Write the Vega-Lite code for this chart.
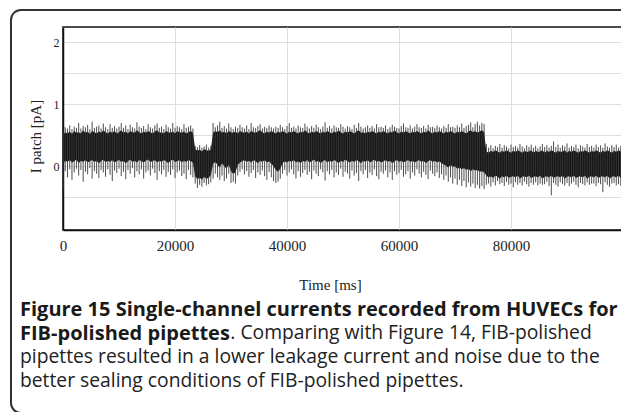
{
  "$schema": "https://vega.github.io/schema/vega-lite/v6.json",
  "width": 560,
  "height": 203,
  "autosize": {"type": "none"},
  "padding": {"left": 63, "top": 27, "right": 0, "bottom": 182},
  "background": "white",
  "config": {
    "view": {"stroke": "#111", "strokeWidth": 1.5},
    "axis": {"gridColor": "#dedede", "gridWidth": 1, "domainColor": "#111", "domainWidth": 1.5, "ticks": false, "labelColor": "#222", "titleColor": "#222", "labelFont": "Liberation Serif", "titleFont": "Liberation Serif", "titleFontWeight": "normal"}
  },
  "title": {
    "text": ["Figure 15 Single-channel currents recorded from HUVECs for", "FIB-polished pipettes"],
    "subtitle": ["\u200b\u00a0\u00a0\u00a0\u00a0\u00a0\u00a0\u00a0\u00a0\u00a0\u00a0\u00a0\u00a0\u00a0\u00a0\u00a0\u00a0\u00a0\u00a0\u00a0\u00a0\u00a0\u00a0\u00a0\u00a0\u00a0\u00a0\u00a0\u00a0\u00a0\u00a0\u00a0\u00a0\u00a0\u00a0\u00a0\u00a0\u00a0\u00a0\u00a0\u00a0\u00a0\u00a0. Comparing with Figure 14, FIB-polished", "pipettes resulted in a lower leakage current and noise due to the", "better sealing conditions of FIB-polished pipettes."],
    "orient": "bottom",
    "anchor": "start",
    "frame": "group",
    "dx": -43,
    "offset": -114,
    "font": "Open Sans",
    "fontSize": 20,
    "fontWeight": "bold",
    "color": "#1a1a1a",
    "lineHeight": 24,
    "subtitleFont": "Open Sans",
    "subtitleFontSize": 19.3,
    "subtitleFontWeight": "normal",
    "subtitleColor": "#222",
    "subtitleLineHeight": 24,
    "subtitlePadding": -20
  },
  "data": {"values": [
    {"t":0,"lo":0.04,"hi":0.50,"mn":-0.38,"mx":0.58},
    {"t":400,"lo":0.09,"hi":0.55,"mn":-0.08,"mx":0.63},
    {"t":800,"lo":0.07,"hi":0.53,"mn":-0.18,"mx":0.61},
    {"t":1200,"lo":0.10,"hi":0.56,"mn":-0.05,"mx":0.66},
    {"t":1600,"lo":0.06,"hi":0.52,"mn":-0.22,"mx":0.60},
    {"t":2000,"lo":0.08,"hi":0.57,"mn":-0.10,"mx":0.64},
    {"t":2400,"lo":0.11,"hi":0.54,"mn":-0.04,"mx":0.62},
    {"t":2800,"lo":0.05,"hi":0.55,"mn":-0.15,"mx":0.70},
    {"t":3200,"lo":0.09,"hi":0.53,"mn":-0.06,"mx":0.61},
    {"t":3600,"lo":0.07,"hi":0.58,"mn":-0.25,"mx":0.65},
    {"t":4000,"lo":0.10,"hi":0.54,"mn":-0.09,"mx":0.63},
    {"t":4400,"lo":0.06,"hi":0.56,"mn":-0.13,"mx":0.67},
    {"t":4800,"lo":0.08,"hi":0.52,"mn":-0.03,"mx":0.60},
    {"t":5200,"lo":0.10,"hi":0.57,"mn":-0.20,"mx":0.72},
    {"t":5600,"lo":0.07,"hi":0.55,"mn":-0.08,"mx":0.62},
    {"t":6000,"lo":0.09,"hi":0.53,"mn":-0.12,"mx":0.64},
    {"t":6400,"lo":0.05,"hi":0.56,"mn":-0.19,"mx":0.66},
    {"t":6800,"lo":0.08,"hi":0.54,"mn":-0.06,"mx":0.61},
    {"t":7200,"lo":0.11,"hi":0.58,"mn":-0.10,"mx":0.69},
    {"t":7600,"lo":0.06,"hi":0.55,"mn":-0.17,"mx":0.63},
    {"t":8000,"lo":0.09,"hi":0.53,"mn":-0.05,"mx":0.60},
    {"t":8400,"lo":0.07,"hi":0.56,"mn":-0.14,"mx":0.68},
    {"t":8800,"lo":0.10,"hi":0.54,"mn":-0.24,"mx":0.62},
    {"t":9200,"lo":0.06,"hi":0.57,"mn":-0.07,"mx":0.65},
    {"t":9600,"lo":0.08,"hi":0.53,"mn":-0.11,"mx":0.61},
    {"t":10000,"lo":0.10,"hi":0.55,"mn":-0.04,"mx":0.64},
    {"t":10400,"lo":0.07,"hi":0.58,"mn":-0.16,"mx":0.70},
    {"t":10800,"lo":0.09,"hi":0.54,"mn":-0.09,"mx":0.62},
    {"t":11200,"lo":0.05,"hi":0.56,"mn":-0.21,"mx":0.66},
    {"t":11600,"lo":0.08,"hi":0.53,"mn":-0.06,"mx":0.60},
    {"t":12000,"lo":0.11,"hi":0.57,"mn":-0.12,"mx":0.67},
    {"t":12400,"lo":0.07,"hi":0.55,"mn":-0.03,"mx":0.63},
    {"t":12800,"lo":0.09,"hi":0.54,"mn":-0.18,"mx":0.61},
    {"t":13200,"lo":0.06,"hi":0.58,"mn":-0.08,"mx":0.71},
    {"t":13600,"lo":0.10,"hi":0.55,"mn":-0.13,"mx":0.64},
    {"t":14000,"lo":0.08,"hi":0.53,"mn":-0.05,"mx":0.62},
    {"t":14400,"lo":0.06,"hi":0.56,"mn":-0.20,"mx":0.65},
    {"t":14800,"lo":0.09,"hi":0.54,"mn":-0.10,"mx":0.60},
    {"t":15200,"lo":0.11,"hi":0.57,"mn":-0.07,"mx":0.68},
    {"t":15600,"lo":0.07,"hi":0.55,"mn":-0.15,"mx":0.63},
    {"t":16000,"lo":0.08,"hi":0.53,"mn":-0.04,"mx":0.61},
    {"t":16400,"lo":0.10,"hi":0.56,"mn":-0.11,"mx":0.66},
    {"t":16800,"lo":0.06,"hi":0.58,"mn":-0.22,"mx":0.69},
    {"t":17200,"lo":0.09,"hi":0.54,"mn":-0.08,"mx":0.62},
    {"t":17600,"lo":0.07,"hi":0.55,"mn":-0.13,"mx":0.64},
    {"t":18000,"lo":0.10,"hi":0.53,"mn":-0.06,"mx":0.60},
    {"t":18400,"lo":0.08,"hi":0.57,"mn":-0.17,"mx":0.67},
    {"t":18800,"lo":0.05,"hi":0.55,"mn":-0.09,"mx":0.63},
    {"t":19200,"lo":0.09,"hi":0.54,"mn":-0.14,"mx":0.61},
    {"t":19600,"lo":0.11,"hi":0.56,"mn":-0.05,"mx":0.70},
    {"t":20000,"lo":0.07,"hi":0.53,"mn":-0.19,"mx":0.62},
    {"t":20400,"lo":0.08,"hi":0.57,"mn":-0.10,"mx":0.65},
    {"t":20800,"lo":0.10,"hi":0.55,"mn":-0.07,"mx":0.63},
    {"t":21200,"lo":0.06,"hi":0.54,"mn":-0.16,"mx":0.60},
    {"t":21600,"lo":0.09,"hi":0.56,"mn":-0.12,"mx":0.68},
    {"t":22000,"lo":0.07,"hi":0.53,"mn":-0.21,"mx":0.62},
    {"t":22400,"lo":0.10,"hi":0.55,"mn":-0.06,"mx":0.64},
    {"t":22800,"lo":0.08,"hi":0.57,"mn":-0.14,"mx":0.66},
    {"t":23200,"lo":0.06,"hi":0.54,"mn":-0.18,"mx":0.61},
    {"t":23600,"lo":-0.16,"hi":0.28,"mn":-0.28,"mx":0.33},
    {"t":24000,"lo":-0.21,"hi":0.25,"mn":-0.35,"mx":0.31},
    {"t":24400,"lo":-0.18,"hi":0.27,"mn":-0.30,"mx":0.34},
    {"t":24800,"lo":-0.22,"hi":0.24,"mn":-0.33,"mx":0.30},
    {"t":25200,"lo":-0.17,"hi":0.28,"mn":-0.27,"mx":0.32},
    {"t":25600,"lo":-0.20,"hi":0.26,"mn":-0.31,"mx":0.35},
    {"t":26000,"lo":-0.19,"hi":0.25,"mn":-0.29,"mx":0.30},
    {"t":26400,"lo":-0.14,"hi":0.27,"mn":-0.26,"mx":0.33},
    {"t":26800,"lo":0.04,"hi":0.54,"mn":-0.20,"mx":0.70},
    {"t":27200,"lo":0.07,"hi":0.57,"mn":-0.12,"mx":0.63},
    {"t":27600,"lo":0.02,"hi":0.55,"mn":-0.18,"mx":0.66},
    {"t":28000,"lo":-0.02,"hi":0.58,"mn":-0.22,"mx":0.72},
    {"t":28400,"lo":0.05,"hi":0.54,"mn":-0.15,"mx":0.62},
    {"t":28800,"lo":0.00,"hi":0.56,"mn":-0.24,"mx":0.65},
    {"t":29200,"lo":-0.04,"hi":0.53,"mn":-0.20,"mx":0.61},
    {"t":29600,"lo":0.03,"hi":0.57,"mn":-0.12,"mx":0.69},
    {"t":30000,"lo":-0.08,"hi":0.55,"mn":-0.27,"mx":0.63},
    {"t":30400,"lo":-0.12,"hi":0.54,"mn":-0.25,"mx":0.60},
    {"t":30800,"lo":-0.10,"hi":0.56,"mn":-0.28,"mx":0.64},
    {"t":31200,"lo":0.02,"hi":0.53,"mn":-0.15,"mx":0.62},
    {"t":31600,"lo":0.06,"hi":0.57,"mn":-0.09,"mx":0.67},
    {"t":32000,"lo":0.08,"hi":0.55,"mn":-0.05,"mx":0.63},
    {"t":32400,"lo":0.10,"hi":0.54,"mn":-0.13,"mx":0.61},
    {"t":32800,"lo":0.07,"hi":0.56,"mn":-0.08,"mx":0.66},
    {"t":33200,"lo":0.09,"hi":0.53,"mn":-0.17,"mx":0.60},
    {"t":33600,"lo":0.06,"hi":0.57,"mn":-0.11,"mx":0.70},
    {"t":34000,"lo":0.10,"hi":0.55,"mn":-0.06,"mx":0.63},
    {"t":34400,"lo":0.08,"hi":0.54,"mn":-0.19,"mx":0.62},
    {"t":34800,"lo":0.05,"hi":0.56,"mn":-0.10,"mx":0.65},
    {"t":35200,"lo":0.09,"hi":0.58,"mn":-0.14,"mx":0.68},
    {"t":35600,"lo":0.07,"hi":0.55,"mn":-0.07,"mx":0.61},
    {"t":36000,"lo":0.10,"hi":0.53,"mn":-0.16,"mx":0.64},
    {"t":36400,"lo":0.06,"hi":0.56,"mn":-0.22,"mx":0.62},
    {"t":36800,"lo":0.08,"hi":0.54,"mn":-0.09,"mx":0.66},
    {"t":37200,"lo":0.04,"hi":0.57,"mn":-0.18,"mx":0.63},
    {"t":37600,"lo":0.00,"hi":0.55,"mn":-0.24,"mx":0.61},
    {"t":38000,"lo":-0.06,"hi":0.53,"mn":-0.27,"mx":0.64},
    {"t":38400,"lo":-0.09,"hi":0.56,"mn":-0.25,"mx":0.62},
    {"t":38800,"lo":-0.04,"hi":0.54,"mn":-0.20,"mx":0.67},
    {"t":39200,"lo":0.05,"hi":0.57,"mn":-0.12,"mx":0.63},
    {"t":39600,"lo":0.08,"hi":0.55,"mn":-0.06,"mx":0.60},
    {"t":40000,"lo":0.06,"hi":0.53,"mn":-0.15,"mx":0.65},
    {"t":40400,"lo":0.09,"hi":0.56,"mn":-0.10,"mx":0.70},
    {"t":40800,"lo":0.07,"hi":0.54,"mn":-0.05,"mx":0.62},
    {"t":41200,"lo":0.10,"hi":0.57,"mn":-0.13,"mx":0.64},
    {"t":41600,"lo":0.06,"hi":0.55,"mn":-0.20,"mx":0.61},
    {"t":42000,"lo":0.08,"hi":0.53,"mn":-0.08,"mx":0.66},
    {"t":42400,"lo":0.05,"hi":0.56,"mn":-0.17,"mx":0.63},
    {"t":42800,"lo":0.09,"hi":0.54,"mn":-0.11,"mx":0.62},
    {"t":43200,"lo":0.07,"hi":0.58,"mn":-0.06,"mx":0.69},
    {"t":43600,"lo":0.10,"hi":0.55,"mn":-0.14,"mx":0.64},
    {"t":44000,"lo":0.06,"hi":0.53,"mn":-0.09,"mx":0.61},
    {"t":44400,"lo":0.08,"hi":0.56,"mn":-0.21,"mx":0.65},
    {"t":44800,"lo":0.11,"hi":0.54,"mn":-0.07,"mx":0.62},
    {"t":45200,"lo":0.07,"hi":0.57,"mn":-0.12,"mx":0.67},
    {"t":45600,"lo":0.09,"hi":0.55,"mn":-0.16,"mx":0.63},
    {"t":46000,"lo":0.05,"hi":0.53,"mn":-0.05,"mx":0.60},
    {"t":46400,"lo":0.08,"hi":0.56,"mn":-0.10,"mx":0.64},
    {"t":46800,"lo":0.10,"hi":0.54,"mn":-0.23,"mx":0.71},
    {"t":47200,"lo":0.06,"hi":0.57,"mn":-0.08,"mx":0.62},
    {"t":47600,"lo":0.09,"hi":0.55,"mn":-0.13,"mx":0.65},
    {"t":48000,"lo":0.07,"hi":0.53,"mn":-0.06,"mx":0.61},
    {"t":48400,"lo":0.10,"hi":0.56,"mn":-0.18,"mx":0.66},
    {"t":48800,"lo":0.08,"hi":0.54,"mn":-0.10,"mx":0.63},
    {"t":49200,"lo":0.05,"hi":0.58,"mn":-0.14,"mx":0.62},
    {"t":49600,"lo":0.09,"hi":0.55,"mn":-0.04,"mx":0.68},
    {"t":50000,"lo":0.07,"hi":0.53,"mn":-0.17,"mx":0.64},
    {"t":50400,"lo":0.11,"hi":0.56,"mn":-0.09,"mx":0.61},
    {"t":50800,"lo":0.08,"hi":0.54,"mn":-0.12,"mx":0.65},
    {"t":51200,"lo":0.06,"hi":0.57,"mn":-0.20,"mx":0.63},
    {"t":51600,"lo":0.09,"hi":0.55,"mn":-0.07,"mx":0.60},
    {"t":52000,"lo":0.07,"hi":0.53,"mn":-0.15,"mx":0.67},
    {"t":52400,"lo":0.10,"hi":0.56,"mn":-0.11,"mx":0.62},
    {"t":52800,"lo":0.08,"hi":0.58,"mn":-0.24,"mx":0.70},
    {"t":53200,"lo":0.05,"hi":0.54,"mn":-0.08,"mx":0.64},
    {"t":53600,"lo":0.09,"hi":0.55,"mn":-0.13,"mx":0.61},
    {"t":54000,"lo":0.07,"hi":0.53,"mn":-0.06,"mx":0.63},
    {"t":54400,"lo":0.10,"hi":0.56,"mn":-0.19,"mx":0.66},
    {"t":54800,"lo":0.06,"hi":0.54,"mn":-0.10,"mx":0.62},
    {"t":55200,"lo":0.08,"hi":0.57,"mn":-0.14,"mx":0.65},
    {"t":55600,"lo":0.11,"hi":0.55,"mn":-0.05,"mx":0.61},
    {"t":56000,"lo":0.07,"hi":0.53,"mn":-0.16,"mx":0.68},
    {"t":56400,"lo":0.09,"hi":0.56,"mn":-0.21,"mx":0.63},
    {"t":56800,"lo":0.06,"hi":0.54,"mn":-0.09,"mx":0.64},
    {"t":57200,"lo":0.08,"hi":0.57,"mn":-0.12,"mx":0.62},
    {"t":57600,"lo":0.10,"hi":0.55,"mn":-0.07,"mx":0.66},
    {"t":58000,"lo":0.07,"hi":0.53,"mn":-0.18,"mx":0.60},
    {"t":58400,"lo":0.09,"hi":0.56,"mn":-0.10,"mx":0.63},
    {"t":58800,"lo":0.05,"hi":0.54,"mn":-0.22,"mx":0.67},
    {"t":59200,"lo":0.08,"hi":0.58,"mn":-0.08,"mx":0.64},
    {"t":59600,"lo":0.10,"hi":0.55,"mn":-0.14,"mx":0.62},
    {"t":60000,"lo":0.07,"hi":0.53,"mn":-0.11,"mx":0.61},
    {"t":60400,"lo":0.09,"hi":0.56,"mn":-0.06,"mx":0.65},
    {"t":60800,"lo":0.06,"hi":0.54,"mn":-0.17,"mx":0.69},
    {"t":61200,"lo":0.08,"hi":0.57,"mn":-0.13,"mx":0.63},
    {"t":61600,"lo":0.10,"hi":0.55,"mn":-0.08,"mx":0.62},
    {"t":62000,"lo":0.07,"hi":0.53,"mn":-0.20,"mx":0.66},
    {"t":62400,"lo":0.09,"hi":0.56,"mn":-0.10,"mx":0.61},
    {"t":62800,"lo":0.06,"hi":0.54,"mn":-0.15,"mx":0.64},
    {"t":63200,"lo":0.08,"hi":0.57,"mn":-0.05,"mx":0.68},
    {"t":63600,"lo":0.10,"hi":0.55,"mn":-0.12,"mx":0.63},
    {"t":64000,"lo":0.07,"hi":0.53,"mn":-0.18,"mx":0.62},
    {"t":64400,"lo":0.09,"hi":0.56,"mn":-0.09,"mx":0.65},
    {"t":64800,"lo":0.05,"hi":0.54,"mn":-0.14,"mx":0.61},
    {"t":65200,"lo":0.08,"hi":0.58,"mn":-0.21,"mx":0.67},
    {"t":65600,"lo":0.10,"hi":0.55,"mn":-0.07,"mx":0.63},
    {"t":66000,"lo":0.07,"hi":0.53,"mn":-0.12,"mx":0.64},
    {"t":66400,"lo":0.09,"hi":0.56,"mn":-0.16,"mx":0.62},
    {"t":66800,"lo":0.06,"hi":0.54,"mn":-0.10,"mx":0.66},
    {"t":67200,"lo":0.08,"hi":0.57,"mn":-0.19,"mx":0.63},
    {"t":67600,"lo":0.05,"hi":0.55,"mn":-0.13,"mx":0.61},
    {"t":68000,"lo":0.03,"hi":0.53,"mn":-0.22,"mx":0.65},
    {"t":68400,"lo":0.01,"hi":0.56,"mn":-0.15,"mx":0.62},
    {"t":68800,"lo":-0.02,"hi":0.54,"mn":-0.25,"mx":0.68},
    {"t":69200,"lo":0.02,"hi":0.57,"mn":-0.18,"mx":0.63},
    {"t":69600,"lo":-0.01,"hi":0.55,"mn":-0.28,"mx":0.64},
    {"t":70000,"lo":0.00,"hi":0.53,"mn":-0.20,"mx":0.62},
    {"t":70400,"lo":-0.04,"hi":0.56,"mn":-0.30,"mx":0.66},
    {"t":70800,"lo":-0.02,"hi":0.54,"mn":-0.22,"mx":0.63},
    {"t":71200,"lo":-0.05,"hi":0.57,"mn":-0.32,"mx":0.69},
    {"t":71600,"lo":-0.03,"hi":0.55,"mn":-0.24,"mx":0.62},
    {"t":72000,"lo":-0.06,"hi":0.53,"mn":-0.34,"mx":0.65},
    {"t":72400,"lo":-0.04,"hi":0.56,"mn":-0.26,"mx":0.67},
    {"t":72800,"lo":-0.08,"hi":0.58,"mn":-0.33,"mx":0.71},
    {"t":73200,"lo":-0.05,"hi":0.55,"mn":-0.28,"mx":0.63},
    {"t":73600,"lo":-0.07,"hi":0.57,"mn":-0.35,"mx":0.68},
    {"t":74000,"lo":-0.06,"hi":0.54,"mn":-0.30,"mx":0.72},
    {"t":74400,"lo":-0.09,"hi":0.56,"mn":-0.36,"mx":0.66},
    {"t":74800,"lo":-0.08,"hi":0.58,"mn":-0.32,"mx":0.70},
    {"t":75200,"lo":-0.10,"hi":0.55,"mn":-0.37,"mx":0.68},
    {"t":75600,"lo":-0.15,"hi":0.24,"mn":-0.30,"mx":0.36},
    {"t":76000,"lo":-0.18,"hi":0.22,"mn":-0.28,"mx":0.30},
    {"t":76400,"lo":-0.16,"hi":0.25,"mn":-0.33,"mx":0.34},
    {"t":76800,"lo":-0.19,"hi":0.23,"mn":-0.26,"mx":0.29},
    {"t":77200,"lo":-0.15,"hi":0.26,"mn":-0.31,"mx":0.33},
    {"t":77600,"lo":-0.17,"hi":0.24,"mn":-0.24,"mx":0.31},
    {"t":78000,"lo":-0.20,"hi":0.22,"mn":-0.29,"mx":0.36},
    {"t":78400,"lo":-0.16,"hi":0.25,"mn":-0.27,"mx":0.30},
    {"t":78800,"lo":-0.18,"hi":0.23,"mn":-0.32,"mx":0.34},
    {"t":79200,"lo":-0.15,"hi":0.26,"mn":-0.25,"mx":0.32},
    {"t":79600,"lo":-0.19,"hi":0.24,"mn":-0.30,"mx":0.29},
    {"t":80000,"lo":-0.17,"hi":0.22,"mn":-0.28,"mx":0.35},
    {"t":80400,"lo":-0.16,"hi":0.25,"mn":-0.34,"mx":0.31},
    {"t":80800,"lo":-0.18,"hi":0.23,"mn":-0.26,"mx":0.33},
    {"t":81200,"lo":-0.15,"hi":0.26,"mn":-0.30,"mx":0.30},
    {"t":81600,"lo":-0.20,"hi":0.24,"mn":-0.27,"mx":0.36},
    {"t":82000,"lo":-0.17,"hi":0.22,"mn":-0.31,"mx":0.32},
    {"t":82400,"lo":-0.16,"hi":0.25,"mn":-0.25,"mx":0.29},
    {"t":82800,"lo":-0.18,"hi":0.23,"mn":-0.29,"mx":0.34},
    {"t":83200,"lo":-0.15,"hi":0.24,"mn":-0.33,"mx":0.31},
    {"t":83600,"lo":-0.19,"hi":0.26,"mn":-0.27,"mx":0.35},
    {"t":84000,"lo":-0.17,"hi":0.22,"mn":-0.30,"mx":0.30},
    {"t":84400,"lo":-0.16,"hi":0.25,"mn":-0.26,"mx":0.33},
    {"t":84800,"lo":-0.18,"hi":0.23,"mn":-0.31,"mx":0.29},
    {"t":85200,"lo":-0.15,"hi":0.24,"mn":-0.28,"mx":0.32},
    {"t":85600,"lo":-0.20,"hi":0.26,"mn":-0.30,"mx":0.36},
    {"t":86000,"lo":-0.17,"hi":0.22,"mn":-0.29,"mx":0.31},
    {"t":86400,"lo":-0.16,"hi":0.25,"mn":-0.25,"mx":0.34},
    {"t":86800,"lo":-0.18,"hi":0.23,"mn":-0.32,"mx":0.30},
    {"t":87200,"lo":-0.15,"hi":0.26,"mn":-0.47,"mx":0.33},
    {"t":87600,"lo":-0.19,"hi":0.24,"mn":-0.27,"mx":0.40},
    {"t":88000,"lo":-0.17,"hi":0.22,"mn":-0.30,"mx":0.31},
    {"t":88400,"lo":-0.16,"hi":0.25,"mn":-0.33,"mx":0.35},
    {"t":88800,"lo":-0.18,"hi":0.23,"mn":-0.26,"mx":0.30},
    {"t":89200,"lo":-0.15,"hi":0.24,"mn":-0.29,"mx":0.34},
    {"t":89600,"lo":-0.20,"hi":0.26,"mn":-0.31,"mx":0.32},
    {"t":90000,"lo":-0.17,"hi":0.22,"mn":-0.27,"mx":0.37},
    {"t":90400,"lo":-0.16,"hi":0.25,"mn":-0.32,"mx":0.30},
    {"t":90800,"lo":-0.18,"hi":0.23,"mn":-0.28,"mx":0.33},
    {"t":91200,"lo":-0.15,"hi":0.26,"mn":-0.25,"mx":0.31},
    {"t":91600,"lo":-0.19,"hi":0.24,"mn":-0.30,"mx":0.35},
    {"t":92000,"lo":-0.17,"hi":0.22,"mn":-0.34,"mx":0.29},
    {"t":92400,"lo":-0.16,"hi":0.25,"mn":-0.27,"mx":0.34},
    {"t":92800,"lo":-0.18,"hi":0.23,"mn":-0.29,"mx":0.32},
    {"t":93200,"lo":-0.15,"hi":0.26,"mn":-0.31,"mx":0.30},
    {"t":93600,"lo":-0.20,"hi":0.24,"mn":-0.26,"mx":0.36},
    {"t":94000,"lo":-0.17,"hi":0.22,"mn":-0.30,"mx":0.31},
    {"t":94400,"lo":-0.16,"hi":0.25,"mn":-0.28,"mx":0.33},
    {"t":94800,"lo":-0.18,"hi":0.23,"mn":-0.28,"mx":0.30},
    {"t":95200,"lo":-0.15,"hi":0.26,"mn":-0.32,"mx":0.35},
    {"t":95600,"lo":-0.19,"hi":0.24,"mn":-0.27,"mx":0.31},
    {"t":96000,"lo":-0.17,"hi":0.22,"mn":-0.29,"mx":0.34},
    {"t":96400,"lo":-0.16,"hi":0.25,"mn":-0.42,"mx":0.30},
    {"t":96800,"lo":-0.18,"hi":0.23,"mn":-0.26,"mx":0.37},
    {"t":97200,"lo":-0.15,"hi":0.26,"mn":-0.30,"mx":0.32},
    {"t":97600,"lo":-0.20,"hi":0.24,"mn":-0.33,"mx":0.30},
    {"t":98000,"lo":-0.17,"hi":0.22,"mn":-0.28,"mx":0.34},
    {"t":98400,"lo":-0.16,"hi":0.25,"mn":-0.27,"mx":0.31},
    {"t":98800,"lo":-0.18,"hi":0.23,"mn":-0.31,"mx":0.35},
    {"t":99200,"lo":-0.15,"hi":0.26,"mn":-0.29,"mx":0.30},
    {"t":99600,"lo":-0.19,"hi":0.24,"mn":-0.32,"mx":0.33},
    {"t":100000,"lo":-0.17,"hi":0.23,"mn":-0.28,"mx":0.32}
  ]},
  "layer": [
    {
      "mark": {"type": "area", "color": "#141414", "interpolate": "linear"},
      "encoding": {
        "x": {"field": "t", "type": "quantitative", "scale": {"domain": [0, 100000], "nice": false, "zero": false},
              "axis": {"values": [0, 20000, 40000, 60000, 80000], "format": "d", "labelFontSize": 15, "labelPadding": 8, "labelFlush": false, "title": "Time [ms]", "titleFontSize": 15, "titleX": 267, "titleY": 54, "titleBaseline": "middle", "titleAlign": "center"}},
        "y": {"field": "lo", "type": "quantitative", "scale": {"domain": [-1.03, 2.25], "nice": false, "zero": false},
              "axis": {"values": [-0.5, 0, 0.5, 1, 1.5, 2], "labelExpr": "datum.value % 1 === 0 ? format(datum.value, 'd') : ''", "labelFontSize": 12, "labelPadding": 4, "title": "I patch [pA]", "titleFontSize": 15, "titleX": -28, "titleY": 109, "titleAlign": "center", "titleBaseline": "middle", "titleAngle": -90}},
        "y2": {"field": "hi"}
      }
    },
    {
      "mark": {"type": "rule", "color": "#3a3a3a", "strokeWidth": 0.9},
      "encoding": {
        "x": {"field": "t", "type": "quantitative"},
        "y": {"field": "mn", "type": "quantitative"},
        "y2": {"field": "mx"}
      }
    },
    {
      "data": {"values": [{"frame": "figure"}]},
      "mark": {"type": "rect", "fill": null, "stroke": "#333", "strokeWidth": 2, "cornerRadius": 10, "clip": false},
      "encoding": {
        "x": {"datum": -9286, "type": "quantitative"},
        "x2": {"datum": 103000},
        "y": {"datum": 2.525, "type": "quantitative"},
        "y2": {"datum": -3.986}
      }
    }
  ]
}
